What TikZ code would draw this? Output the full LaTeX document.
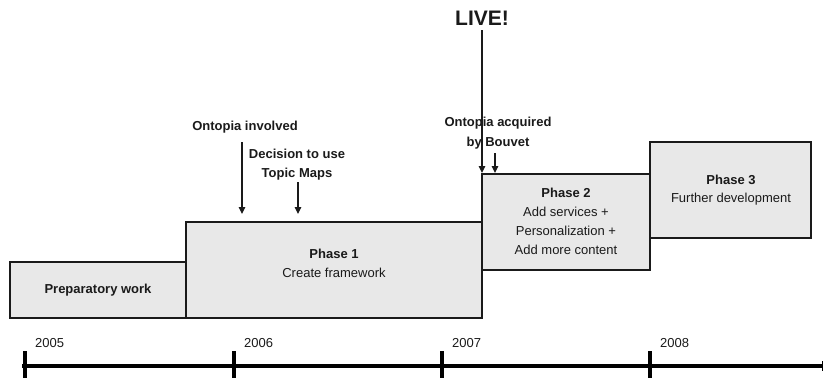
\documentclass[tikz,border=0pt]{standalone}
\usepackage{fontspec}
\setmainfont{Liberation Sans}
\usetikzlibrary{arrows.meta}
\definecolor{boxfill}{HTML}{E8E8E8}
\definecolor{ink}{HTML}{1A1A1A}
\begin{document}
\begin{tikzpicture}[x=1pt,y=-1pt,
  phasebox/.style={draw=ink,line width=1.2pt,fill=boxfill},
  lbl/.style={inner sep=0pt,font=\fontsize{13}{19}\selectfont,align=center,text=ink},
  blbl/.style={lbl,font=\fontsize{13}{19}\selectfont\bfseries},
  yearlbl/.style={inner sep=0pt,anchor=base west,font=\fontsize{13}{15}\selectfont,text=ink},
  marker/.style={draw=ink,line width=1.1pt,-{Triangle[width=6.5pt,length=7pt]}},
  axis/.style={draw=black,line width=4pt},
  tick/.style={draw=black,line width=3.5pt}]
\useasboundingbox (0,0) rectangle (824,378);

% phase boxes
\draw[phasebox] (10,262) rectangle (186,318);
\draw[phasebox] (186,222) rectangle (482,318);
\draw[phasebox] (482,174) rectangle (650,270);
\draw[phasebox] (650,142) rectangle (811,238);

% box texts
\node[blbl] (prep) at (98,290) {Preparatory work};
\node[blbl] (ph1) at (334,254) {Phase 1};
\node[lbl]  (ph1d) at (334,273) {Create framework};
\node[blbl] (ph2) at (566,193) {Phase 2};
\node[lbl] (ph2d) at (566,231) {Add services +\\Personalization +\\Add more content};
\node[blbl] (ph3) at (731,180) {Phase 3};
\node[lbl]  (ph3d) at (731,199) {Further development};

% events
\node[inner sep=0pt,font=\fontsize{21}{23}\selectfont\bfseries,text=ink] (live) at (482,18) {LIVE!};
\node[blbl] (involved) at (245,127) {Ontopia involved};
\node[blbl] (decision) at (297,165) {Decision to use\\Topic Maps};
\node[blbl,font=\fontsize{13}{20}\selectfont\bfseries] (acquired) at (498,133) {Ontopia acquired\\by Bouvet};

\coordinate (liveend) at (482,173);
\coordinate (livestart) at (482,30);
\draw[marker] (livestart) -- (liveend);
\coordinate (acqstart) at (495,153);
\coordinate (acqend) at (495,173);
\draw[marker] (acqstart) -- (acqend);
\coordinate (invstart) at (242,142);
\coordinate (invend) at (242,214);
\draw[marker] (invstart) -- (invend);
\coordinate (decstart) at (298,182);
\coordinate (decend) at (298,214);
\draw[marker] (decstart) -- (decend);

% time axis
\coordinate (axl) at (22,366);
\coordinate (axr) at (822,366);
\draw[axis] (axl) -- (axr);
\draw[draw=black,line width=1.5pt] (822.5,361) -- (822.5,371);
\foreach \x/\yr in {25/2005,234/2006,442/2007,650/2008}{
  \draw[tick] (\x,351) -- (\x,378);
  \node[yearlbl] (y\yr) at (\x+10,347) {\yr};
}
\end{tikzpicture}
\end{document}
